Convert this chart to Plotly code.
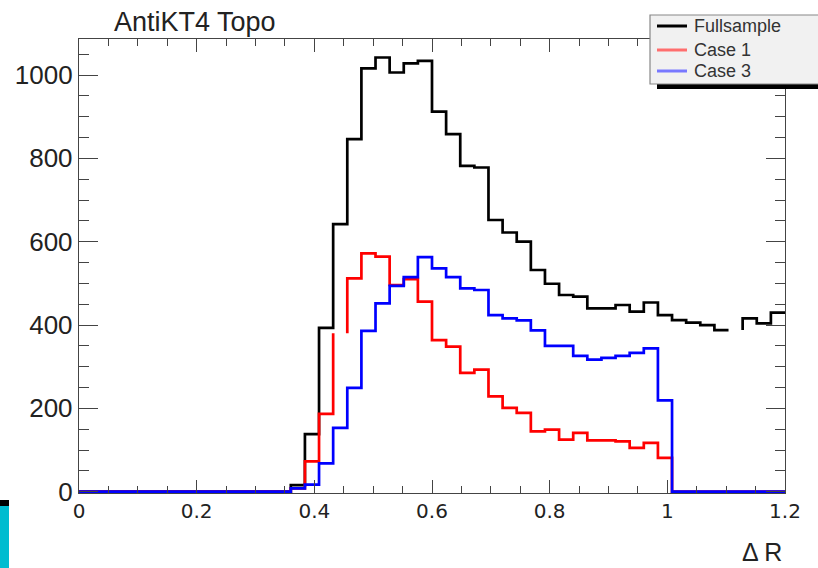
import numpy as np
import plotly.graph_objects as go

# Histogram binning: 50 bins of width 0.024 over Delta R in [0, 1.2]
bin_edges = [round(0.024 * k, 3) for k in range(51)]

fullsample = [0] * 15 + [
    16, 138, 393, 642, 846, 1016, 1042, 1006, 1028, 1034,
    912, 858, 782, 778, 652, 622, 600, 532, 499, 472,
    468, 440, 440, 448, 432, 454, 424, 412, 406, 400,
    388, 388, 416, 404, 430,
]
case1 = [0] * 15 + [
    8, 73, 187, 380, 512, 572, 564, 496, 510, 456,
    364, 348, 285, 293, 229, 201, 189, 145, 149, 125,
    141, 123, 123, 121, 105, 117, 81,
] + [0] * 8
case3 = [0] * 15 + [
    8, 17, 68, 153, 249, 386, 452, 494, 515, 563,
    536, 515, 488, 484, 424, 416, 411, 387, 350, 350,
    326, 317, 321, 326, 333, 344, 219,
] + [0] * 8

# bins whose top segment is not drawn
fullsample_gaps = [46]
case1_gaps = [18]
case3_gaps = []

series_names = ["Fullsample", "Case 1", "Case 3"]
series_colors = ["#000000", "#ff0000", "#0000ff"]
legend_colors = ["#000000", "#ff6e6e", "#7878ff"]


def step_path(edges, values, gaps):
    xs, ys = [], []
    for i, v in enumerate(values):
        xs.append(edges[i]); ys.append(v)
        if i in gaps:
            xs.append(None); ys.append(None)
        xs.append(edges[i + 1]); ys.append(v)
    return xs, ys


fig = go.Figure()
for name, vals, gaps, col in zip(series_names, [fullsample, case1, case3],
                                 [fullsample_gaps, case1_gaps, case3_gaps],
                                 series_colors):
    xs, ys = step_path(bin_edges, vals, gaps)
    fig.add_trace(go.Scatter(x=xs, y=ys, mode="lines", name=name,
                             line=dict(color=col, width=2.7),
                             connectgaps=False, showlegend=False))

W, H = 818, 568
L, R, T, B = 79, 785, 39, 493


def px(x):
    return (x - L) / (R - L)


def py(y):
    return (B - y) / (B - T)


axis_col = "#444444"
fig.update_xaxes(range=[0, 1.2], tickmode="linear", tick0=0, dtick=0.2,
                 ticks="inside", ticklen=13, tickwidth=1.4, tickcolor=axis_col,
                 showline=True, linecolor=axis_col, linewidth=1.4, mirror="ticks",
                 showgrid=False, zeroline=False,
                 minor=dict(dtick=0.05, ticks="inside", ticklen=7, tickwidth=1.2,
                            tickcolor=axis_col, showgrid=False),
                 tickfont=dict(family="DejaVu Sans", size=20, color="#222222"))
fig.update_yaxes(range=[-3.1, 1086.4], tickmode="linear", tick0=0, dtick=200,
                 ticks="inside", ticklen=19, tickwidth=1.4, tickcolor=axis_col,
                 showline=True, linecolor=axis_col, linewidth=1.4, mirror="ticks",
                 showgrid=False, zeroline=False,
                 minor=dict(dtick=50, ticks="inside", ticklen=10, tickwidth=1.2,
                            tickcolor=axis_col, showgrid=False),
                 tickfont=dict(family="Liberation Sans", size=26, color="#222222"))

shapes = []
annotations = []

# legend box with drop shadow
shapes.append(dict(type="rect", xref="paper", yref="paper",
                   x0=px(657), x1=px(830), y0=py(89), y1=py(82),
                   fillcolor="#000000", line=dict(width=0), layer="above"))
shapes.append(dict(type="rect", xref="paper", yref="paper",
                   x0=px(650), x1=px(830), y0=py(84), y1=py(15),
                   fillcolor="#f1f1f1", line=dict(color="#888888", width=1.2),
                   layer="above"))
legend_rows = [26, 50, 71]
for name, col, yrow in zip(series_names, legend_colors, legend_rows):
    shapes.append(dict(type="line", xref="paper", yref="paper",
                       x0=px(657), x1=px(687), y0=py(yrow), y1=py(yrow),
                       line=dict(color=col, width=3), layer="above"))
    annotations.append(dict(text=name, xref="paper", yref="paper",
                            x=px(692), y=py(yrow), xanchor="left", yanchor="middle",
                            showarrow=False,
                            font=dict(family="Liberation Sans", size=18, color="#333333")))

# cyan marker block at the lower left corner
shapes.append(dict(type="rect", xref="paper", yref="paper",
                   x0=px(0), x1=px(9), y0=py(568), y1=py(506),
                   fillcolor="#00bcd0", line=dict(width=0), layer="above"))
shapes.append(dict(type="rect", xref="paper", yref="paper",
                   x0=px(0), x1=px(9), y0=py(506), y1=py(500),
                   fillcolor="#000000", line=dict(width=0), layer="above"))

# title and axis label
annotations.append(dict(text="AntiKT4 Topo", xref="paper", yref="paper",
                        x=px(112), y=py(22), xanchor="left", yanchor="middle",
                        showarrow=False,
                        font=dict(family="Liberation Sans", size=27, color="#222222")))
annotations.append(dict(text="Δ R", xref="paper", yref="paper",
                        x=px(784), y=py(568), xanchor="right", yanchor="bottom",
                        showarrow=False,
                        font=dict(family="Liberation Sans", size=25, color="#222222")))

fig.update_layout(width=W, height=H, autosize=False,
                  margin=dict(l=L, r=W - R, t=T, b=H - B, pad=0),
                  paper_bgcolor="white", plot_bgcolor="white",
                  shapes=shapes, annotations=annotations, showlegend=False)

fig.write_html("out.html")
